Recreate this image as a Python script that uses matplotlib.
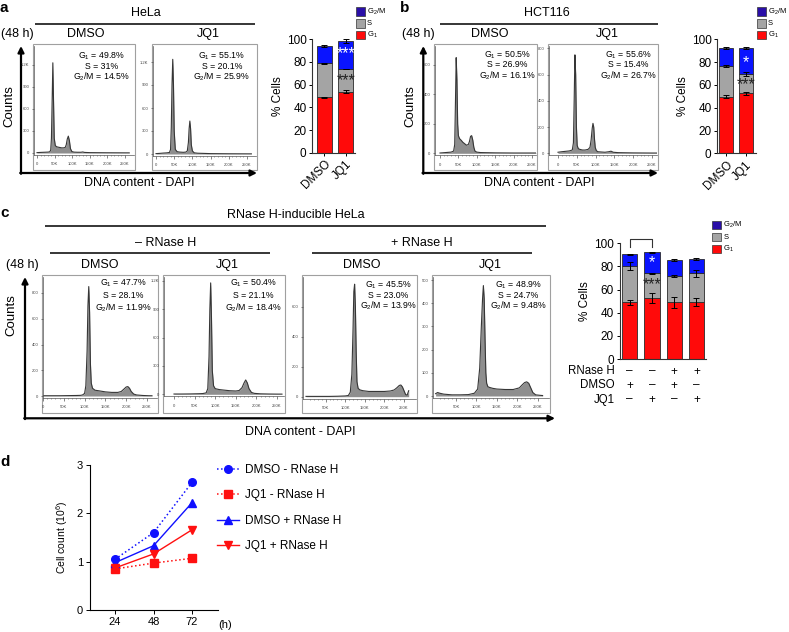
import numpy as np
import matplotlib
matplotlib.use("Agg")
import matplotlib.pyplot as plt
from matplotlib.patches import Rectangle

plt.rcParams['font.family'] = ['Liberation Sans', 'DejaVu Sans']
plt.rcParams['mathtext.fontset'] = 'custom'
plt.rcParams['mathtext.rm'] = 'Liberation Sans'
plt.rcParams['mathtext.it'] = 'Liberation Sans:italic'

W, H = 789, 632

# Colours
RED = '#ff0a0a'
GREY = '#a4a4a4'
BLUE = '#0a14ff'
NAVY = '#2a0fa8'

# Flow histograms: DNA content (K) and counts
hela_dmso_x = [0, 10, 20, 30, 36, 39, 41, 43, 45, 47, 49, 52, 56, 60, 65, 70, 75, 80, 83, 86, 89, 92, 95, 99, 105, 115, 125, 130, 135, 150, 200, 250, 262]
hela_dmso_y = [5, 8, 10, 12, 15, 40, 200, 700, 1230, 700, 200, 100, 85, 80, 75, 70, 70, 75, 110, 190, 230, 170, 60, 20, 12, 10, 10, 14, 8, 5, 3, 2, 2]
hela_jq1_x = [0, 10, 20, 30, 37, 40, 42, 44, 46, 48, 50, 53, 58, 65, 75, 82, 86, 89, 91, 93, 95, 97, 100, 105, 115, 130, 150, 200, 250, 262]
hela_jq1_y = [5, 8, 12, 15, 20, 60, 350, 900, 1235, 900, 300, 60, 30, 25, 22, 25, 40, 150, 330, 430, 330, 120, 40, 15, 10, 8, 5, 3, 2, 2]
hct_dmso_x = [0, 10, 20, 30, 37, 40, 42, 44, 46, 48, 50, 53, 57, 62, 67, 72, 77, 80, 83, 86, 89, 92, 95, 100, 110, 130, 150, 200, 250, 262]
hct_dmso_y = [2, 4, 6, 8, 15, 60, 350, 650, 500, 200, 120, 100, 90, 75, 65, 55, 60, 80, 115, 120, 90, 40, 15, 8, 5, 4, 3, 2, 2, 2]
hct_jq1_x = [0, 10, 20, 30, 38, 41, 43, 45, 47, 49, 51, 54, 58, 65, 72, 80, 85, 88, 91, 93, 95, 97, 99, 102, 106, 115, 125, 135, 141, 147, 160, 200, 250, 262]
hct_jq1_y = [8, 12, 15, 18, 25, 80, 400, 750, 600, 200, 60, 35, 30, 25, 25, 30, 45, 100, 190, 228, 200, 110, 45, 20, 12, 10, 8, 12, 16, 8, 5, 3, 2, 2]
rn_minus_dmso_x = [0, 20, 40, 60, 80, 90, 95, 100, 103, 106, 108, 110, 112, 114, 116, 119, 125, 135, 150, 165, 180, 188, 195, 200, 204, 208, 212, 218, 225, 240, 255, 262]
rn_minus_dmso_y = [2, 2, 2, 3, 4, 5, 8, 20, 80, 350, 700, 850, 650, 250, 100, 60, 45, 40, 32, 28, 28, 35, 55, 70, 73, 60, 35, 15, 8, 4, 2, 2]
rn_minus_jq1_x = [0, 20, 40, 60, 70, 78, 82, 85, 87, 89, 91, 93, 96, 100, 110, 120, 135, 150, 158, 165, 170, 174, 178, 182, 188, 195, 210, 230, 250, 262]
rn_minus_jq1_y = [3, 3, 4, 6, 8, 15, 60, 400, 900, 1180, 800, 250, 90, 60, 50, 45, 38, 35, 40, 70, 120, 152, 120, 60, 20, 10, 5, 3, 2, 2]
rn_plus_dmso_x = [0, 20, 40, 60, 80, 100, 108, 113, 117, 120, 122, 124, 126, 128, 130, 133, 138, 145, 160, 180, 200, 215, 225, 232, 238, 242, 246, 250, 254, 258, 262]
rn_plus_dmso_y = [2, 2, 2, 2, 3, 5, 8, 30, 150, 450, 700, 750, 600, 300, 100, 55, 45, 40, 35, 35, 35, 38, 45, 60, 75, 78, 65, 40, 15, 10, 40]
rn_plus_jq1_x = [0, 5, 10, 20, 40, 60, 80, 95, 103, 108, 112, 115, 117, 119, 121, 123, 125, 128, 132, 140, 150, 170, 190, 205, 212, 218, 223, 228, 233, 238, 245, 255, 262]
rn_plus_jq1_y = [10, 15, 12, 8, 5, 5, 6, 12, 30, 120, 300, 420, 476, 420, 250, 100, 55, 40, 37, 33, 30, 28, 28, 35, 48, 58, 61, 55, 35, 15, 5, 3, 2]

stats_hela = [['49.8%', '31%', '14.5%'], ['55.1%', '20.1%', '25.9%']]
stats_hct = [['50.5%', '26.9%', '16.1%'], ['55.6%', '15.4%', '26.7%']]
stats_rn = [['47.7%', '28.1%', '11.9%'], ['50.4%', '21.1%', '18.4%'],
            ['45.5%', '23.0%', '13.9%'], ['48.9%', '24.7%', '9.48%']]

# Stacked bars (% cells): G1, S, G2/M segments with error bars
a_groups = ['DMSO', 'JQ1']
a_g1 = [48.8, 53.8]
a_g1_err = [0.5, 1.5]
a_s = [30.0, 20.0]
a_s_err = [0.5, 0.3]
a_g2 = [15.3, 24.7]
a_g2_err = [0.5, 1.5]

b_groups = ['DMSO', 'JQ1']
b_g1 = [49.6, 52.6]
b_g1_err = [1.5, 1.5]
b_s = [27.0, 17.0]
b_s_err = [0.5, 2.0]
b_g2 = [16.0, 23.0]
b_g2_err = [1.0, 1.0]

c_rnase = ['–', '–', '+', '+']
c_dmso = ['+', '–', '+', '–']
c_jq1 = ['–', '+', '–', '+']
c_g1 = [49.0, 53.0, 49.0, 49.0]
c_g1_err = [2.2, 4.3, 4.8, 3.6]
c_s = [31.4, 21.0, 23.0, 25.0]
c_s_err = [3.6, 0.5, 1.0, 3.0]
c_g2 = [10.1, 18.2, 13.6, 12.4]
c_g2_err = [0.5, 0.3, 1.0, 0.5]

# Cell counts (10^6)
hours = [24, 48, 72]
dmso_minus = [1.05, 1.60, 2.64]
jq1_minus = [0.85, 0.97, 1.07]
dmso_plus = [0.98, 1.33, 2.22]
jq1_plus = [0.87, 1.16, 1.66]

fig = plt.figure(figsize=(W / 100, H / 100), dpi=100)

# overlay in pixel coordinates for headers, boxes and arrows
ov = fig.add_axes([0, 0, 1, 1])
ov.set_xlim(0, W)
ov.set_ylim(H, 0)
ov.axis('off')


def px_axes(l, t, r, b):
    return fig.add_axes([l / W, 1 - b / H, (r - l) / W, (b - t) / H])


def txt(x, y, s, size=9, **kw):
    kw.setdefault('ha', 'center')
    kw.setdefault('va', 'center')
    ov.text(x, y, s, fontsize=size, **kw)


def hline(x1, x2, y, lw=1.1):
    ov.plot([x1, x2], [y, y], color='k', lw=lw, solid_capstyle='butt')


def big_axes(xc, y_bottom, y_top, x_right):
    ap = dict(arrowstyle='-|>', lw=1.6, color='k', mutation_scale=9, shrinkA=0, shrinkB=0)
    ov.annotate('', xy=(xc, y_top), xytext=(xc, y_bottom + 0.8), arrowprops=ap)
    ov.annotate('', xy=(x_right, y_bottom), xytext=(xc - 0.8, y_bottom), arrowprops=ap)


def flow_hist(box, x0, x250, y0, yref, yref_px, xs, ys, yticks, ylabels, zero_label, stats, stats_x, stats_y):
    L, T, R, B = box
    ov.add_patch(Rectangle((L, T), R - L, B - T, fill=False, ec='#a0a0a0', lw=0.8))
    al, ar, ab, at = L + 1, R - 1, y0 + 2, T + 2
    ax = px_axes(al, at, ar, ab)
    sx = (x250 - x0) / 250.0
    sy = (y0 - yref_px) / float(yref)
    ax.set_xlim((al - x0) / sx, (ar - x0) / sx)
    ax.set_ylim((y0 - ab) / sy, (y0 - at) / sy)
    ax.fill_between(xs, ys, color='#8e8e8e', lw=0)
    ax.plot(xs, ys, color='#363636', lw=0.8)
    ax.patch.set_visible(False)
    for sp in ['top', 'right']:
        ax.spines[sp].set_visible(False)
    for sp in ['left', 'bottom']:
        ax.spines[sp].set_color('#555555')
        ax.spines[sp].set_linewidth(0.5)
    ax.set_yticks(yticks, ylabels)
    xt = [0, 50, 100, 150, 200, 250]
    xl = ['0', '50K', '100K', '150K', '200K', '250K']
    if not zero_label:
        xt, xl = xt[1:], xl[1:]
    ax.set_xticks(xt, xl)
    ax.set_xticks(np.arange(10, 260, 10), minor=True)
    ax.tick_params(axis='both', which='major', labelsize=3, length=1.8, width=0.5,
                   colors='#555555', labelcolor='#444444')
    ax.tick_params(axis='y', which='major', pad=1.5)
    ax.tick_params(axis='x', which='major', pad=3.5)
    ax.tick_params(axis='x', which='minor', length=1.0, width=0.4, colors='#555555')
    names = ['G$_1$ = ', 'S = ', 'G$_2$/M = ']
    for i in range(3):
        txt(stats_x, stats_y[i], names[i] + stats[i], 6.3)
    return ax


def stacked_bars(ax, g1, g1e, s, se, g2, g2e, width):
    x = np.arange(len(g1))
    g1 = np.array(g1)
    s = np.array(s)
    g2 = np.array(g2)
    ek = dict(ec='#2a2a2a', lw=0.6, width=width, zorder=2)
    ax.bar(x, g1, color=RED, **ek)
    ax.bar(x, s, bottom=g1, color=GREY, **ek)
    ax.bar(x, g2, bottom=g1 + s, color=BLUE, **ek)
    eb = dict(fmt='none', ecolor='k', elinewidth=0.7, capsize=2.4, capthick=0.7, zorder=3)
    ax.errorbar(x, g1, yerr=g1e, **eb)
    ax.errorbar(x, g1 + s, yerr=se, **eb)
    ax.errorbar(x, g1 + s + g2, yerr=g2e, **eb)
    ax.set_ylim(0, 100)
    ax.set_yticks([0, 20, 40, 60, 80, 100])
    for sp in ['top', 'right']:
        ax.spines[sp].set_visible(False)
    for sp in ['left', 'bottom']:
        ax.spines[sp].set_linewidth(0.8)
        ax.spines[sp].set_color('#333333')
    ax.tick_params(labelsize=8.5, length=2.5, width=0.7, pad=1.5)
    ax.set_ylabel('% Cells', fontsize=8.5, labelpad=2)
    ax.patch.set_visible(False)
    return x, g1, s, g2


def phase_legend(x, y_top):
    labels = ['G$_2$/M', 'S', 'G$_1$']
    cols = [NAVY, GREY, RED]
    for i in range(3):
        y = y_top + i * 11.8
        ov.add_patch(Rectangle((x, y), 9, 8.4, fc=cols[i], ec='#333333', lw=0.5))
        txt(x + 11, y + 4.4, labels[i], 5.5, ha='left')


STAR = 11.5

# ---------------- panel a ----------------
txt(0, 8, 'a', 11, ha='left', fontweight='bold')
txt(146, 13, 'HeLa', 9)
hline(35, 255, 23.5)
txt(17, 34, '(48 h)', 9)
txt(86, 34, 'DMSO', 9)
txt(208, 34, 'JQ1', 9)
big_axes(21, 173, 46, 257)
txt(9, 106, 'Counts', 9.5, rotation=90)
txt(139, 183, 'DNA content - DAPI', 9)
flow_hist((33, 44, 135, 170), 37, 125, 153, 1200, 65, hela_dmso_x, hela_dmso_y,
          [0, 300, 600, 900, 1200], ['0', '300', '600', '900', '1.2K'], True,
          stats_hela[0], 101.7, [56, 66.3, 76.7])
flow_hist((152, 44, 257, 170), 156, 247, 154, 1200, 62, hela_jq1_x, hela_jq1_y,
          [0, 300, 600, 900, 1200], ['0', '300', '600', '900', '1.2K'], True,
          stats_hela[1], 221.7, [56, 66.3, 76.7])

ax_a = px_axes(312, 39.3, 355, 152.7)
ax_a.set_xlim(-0.58, 1.42)
xa, g1, s, g2 = stacked_bars(ax_a, a_g1, a_g1_err, a_s, a_s_err, a_g2, a_g2_err, 0.7)
ax_a.set_xticks(xa, a_groups, rotation=45, ha='right', rotation_mode='anchor')
ax_a.text(xa[1], 87.0, '***', color='white', fontsize=STAR, ha='center', va='center')
ax_a.text(xa[1], 63.5, '***', color='#222222', fontsize=STAR, ha='center', va='center')
phase_legend(356, 7.3)

# ---------------- panel b ----------------
txt(400, 8, 'b', 11, ha='left', fontweight='bold')
txt(547, 13, 'HCT116', 9)
hline(440, 658, 23.5)
txt(418, 34, '(48 h)', 9)
txt(490, 34, 'DMSO', 9)
txt(607, 34, 'JQ1', 9)
big_axes(423.3, 173, 46, 658)
txt(410, 106, 'Counts', 9.5, rotation=90)
txt(539, 183, 'DNA content - DAPI', 9)
flow_hist((434, 44, 537, 170), 440, 532, 153.3, 600, 65, hct_dmso_x, hct_dmso_y,
          [0, 200, 400, 600], ['0', '200', '400', '600'], True,
          stats_hct[0], 507, [55, 64.8, 75.5])
flow_hist((548, 44, 658, 170), 558, 652, 153.3, 800, 48.3, hct_jq1_x, hct_jq1_y,
          [0, 200, 400, 600, 800], ['0', '200', '400', '600', '800'], True,
          stats_hct[1], 628.3, [55, 64.8, 75.5])

ax_b = px_axes(717, 39.3, 756, 153.3)
ax_b.set_xlim(-0.45, 1.5)
xb, g1, s, g2 = stacked_bars(ax_b, b_g1, b_g1_err, b_s, b_s_err, b_g2, b_g2_err, 0.715)
ax_b.set_xticks(xb, b_groups, rotation=45, ha='right', rotation_mode='anchor')
ax_b.text(xb[1], 79.5, '*', color='white', fontsize=STAR, ha='center', va='center')
ax_b.text(xb[1], 60.5, '***', color='#222222', fontsize=STAR, ha='center', va='center')
phase_legend(757, 7.3)

# ---------------- panel c ----------------
txt(0, 213, 'c', 11, ha='left', fontweight='bold')
txt(296, 215, 'RNase H-inducible HeLa', 9)
hline(45, 546, 225.5)
txt(166, 242.5, '– RNase H', 9)
hline(50, 270, 252.5)
txt(422, 242.5, '+ RNase H', 9)
hline(312, 532, 252.5)
txt(22, 265, '(48 h)', 9)
txt(100, 265, 'DMSO', 9)
txt(227, 265, 'JQ1', 9)
txt(362, 265, 'DMSO', 9)
txt(490, 265, 'JQ1', 9)
big_axes(25, 418.3, 277, 555)
txt(11.5, 315, 'Counts', 9.5, rotation=90)
txt(300, 432, 'DNA content - DAPI', 9)
flow_hist((42, 275, 158, 413), 43, 147, 396, 800, 293, rn_minus_dmso_x, rn_minus_dmso_y,
          [0, 200, 400, 600, 800], ['0', '200', '400', '600', '800'], True,
          stats_rn[0], 123, [283.3, 295.5, 307.3])
flow_hist((163, 275, 285, 413), 174, 277, 394.3, 1200, 281, rn_minus_jq1_x, rn_minus_jq1_y,
          [0, 300, 600, 900, 1200], ['0', '300', '600', '900', '1.2K'], True,
          stats_rn[1], 253, [283.3, 295.5, 307.3])
flow_hist((302, 275, 417, 413), 306, 404, 396.7, 600, 306.7, rn_plus_dmso_x, rn_plus_dmso_y,
          [0, 200, 400, 600], ['0', '200', '400', '600'], False,
          stats_rn[2], 388.3, [285, 295.5, 305.7])
flow_hist((432, 275, 550, 413), 435.6, 537.7, 396, 500, 280, rn_plus_jq1_x, rn_plus_jq1_y,
          [0, 100, 200, 300, 400, 500], ['0', '100', '200', '300', '400', '500'], False,
          stats_rn[3], 518.3, [285, 295.5, 305.7])

ax_c = px_axes(619.5, 243.3, 706, 359)
ax_c.set_xlim(-0.46, 3.43)
xc, g1, s, g2 = stacked_bars(ax_c, c_g1, c_g1_err, c_s, c_s_err, c_g2, c_g2_err, 0.68)
ax_c.set_xticks([])
ax_c.text(xc[1], 83.0, '*', color='white', fontsize=STAR, ha='center', va='center')
ax_c.text(xc[1], 64.0, '***', color='#222222', fontsize=STAR, ha='center', va='center')
ax_c.plot([xc[0], xc[0], xc[1], xc[1]], [97, 103.7, 103.7, 97], color='#333333', lw=0.8, clip_on=False)
phase_legend(712.3, 221)

# +/- table under the bars, aligned with the bar positions
fig.canvas.draw()
rows = [('RNase H', c_rnase, 371.5), ('DMSO', c_dmso, 385.5), ('JQ1', c_jq1, 399.5)]
for name, signs, y in rows:
    txt(615, y, name, 8.3, ha='right')
    for i, sgn in enumerate(signs):
        xf = ax_c.transData.transform((xc[i], 0))[0]
        txt(xf, y, sgn, 8.5)

# ---------------- panel d ----------------
txt(0, 462, 'd', 11, ha='left', fontweight='bold')
ax_d = px_axes(90, 465, 218, 610)
ax_d.plot(hours, dmso_minus, ':', color='#1010ff', lw=1.1, marker='o', ms=5.5, label='DMSO - RNase H')
ax_d.plot(hours, jq1_minus, ':', color='#ff1010', lw=1.1, marker='s', ms=5.3, label='JQ1 - RNase H')
ax_d.plot(hours, dmso_plus, '-', color='#1010ff', lw=1.0, marker='^', ms=5.5, label='DMSO + RNase H')
ax_d.plot(hours, jq1_plus, '-', color='#ff1010', lw=1.0, marker='v', ms=5.5, label='JQ1 + RNase H')
ax_d.set_xlim(8.4, 88.2)
ax_d.set_ylim(0, 3)
ax_d.set_xticks(hours)
ax_d.set_yticks([0, 1, 2, 3])
for sp in ['top', 'right']:
    ax_d.spines[sp].set_visible(False)
for sp in ['left', 'bottom']:
    ax_d.spines[sp].set_linewidth(0.8)
ax_d.tick_params(labelsize=8, length=3, width=0.7, pad=2)
ax_d.set_ylabel('Cell count (10$^6$)', fontsize=7.5, labelpad=5)
ax_d.patch.set_visible(False)
txt(225, 625, '(h)', 8)
ax_d.legend(loc='upper left', bbox_to_anchor=(217 / W, 1 - 464 / H), bbox_transform=fig.transFigure,
            frameon=False, fontsize=8.5, handlelength=1.9, handletextpad=0.45, labelspacing=1.13,
            borderpad=0, borderaxespad=0)

fig.savefig('out.png', dpi=100)
